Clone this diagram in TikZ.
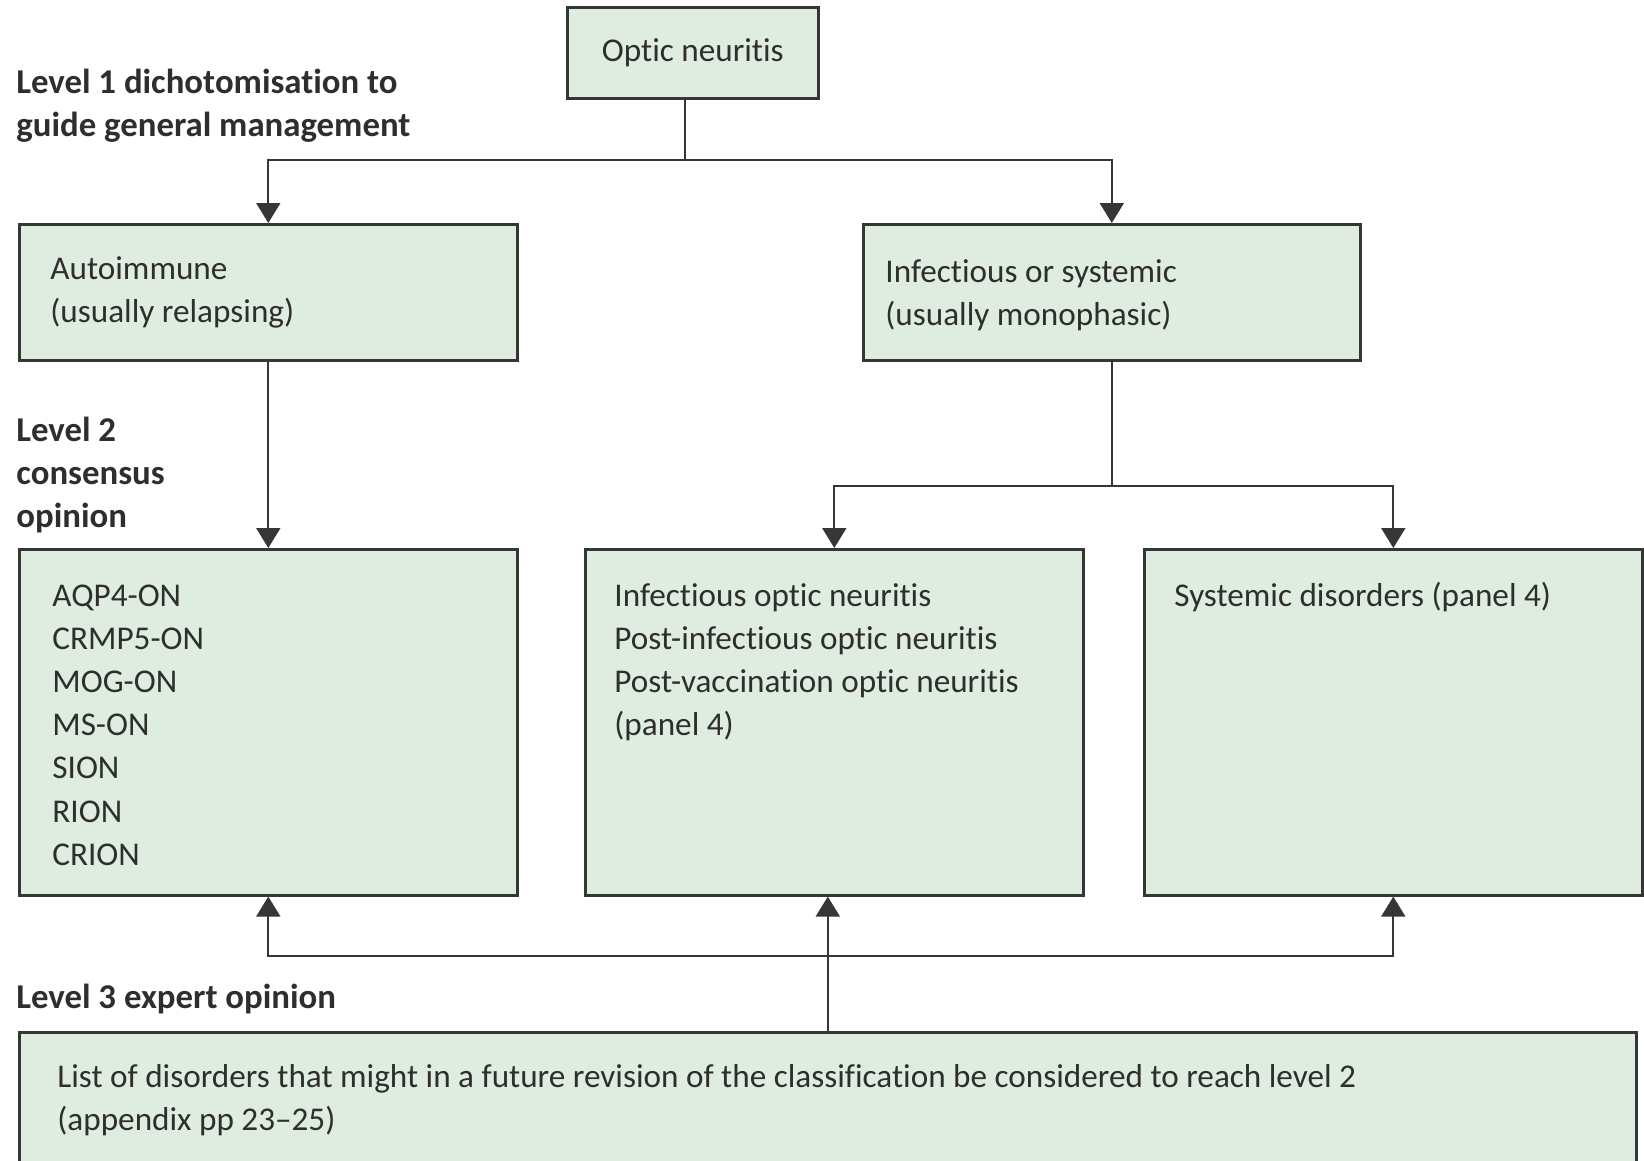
\documentclass[tikz,border=0pt]{standalone}
\usepackage{fontspec}
\setmainfont{Carlito}[Ligatures={NoCommon,NoRequired,NoContextual}]
\usepackage{tikz}
\usetikzlibrary{arrows.meta}
\usetikzlibrary{positioning}
\definecolor{boxfill}{HTML}{DFECE0}
\definecolor{boxline}{HTML}{363636}
\definecolor{inktext}{HTML}{2E2E2E}
\tikzstyle{box}=[draw=boxline,fill=boxfill,line width=1.3pt,rectangle,anchor=north west,inner sep=0pt]
\tikzstyle{txt}=[anchor=base west,align=left,inner sep=0pt,text=inktext,font=\fontsize{16.6}{21.6}\selectfont]
\tikzstyle{tier}=[txt,font=\fontsize{17.4}{21.5}\selectfont\bfseries]
\tikzstyle{link}=[draw=boxline,line width=1pt]
\tikzstyle{arrow}=[link,-{Triangle[length=10pt,width=12pt]}]

\begin{document}
\begin{tikzpicture}[x=0.5pt,y=-0.5pt]
\useasboundingbox (0,0) rectangle (1644,1161);
\clip (0,0) rectangle (1644,1161);
% boxes
\node [box,minimum width=125.5pt,minimum height=45.5pt,text=inktext,font=\fontsize{16.6}{21.6}\selectfont] (opt) at (566,6) {Optic neuritis};
\node [box,minimum width=249pt,minimum height=68pt] (auto) at (18,223) {};
\node [box,minimum width=248.5pt,minimum height=68pt] (inf) at (862,223) {};
\node [box,minimum width=249pt,minimum height=173pt] (aqp) at (18,548) {};
\node [box,minimum width=249pt,minimum height=173pt] (mid) at (584,548) {};
\node [box,minimum width=249pt,minimum height=173pt] (sys) at (1143,548) {};
\node [box,minimum width=808.5pt,minimum height=100pt] (lst) at (18,1031) {};

% box texts (base = last line)
\node [txt] (autotxt) at (auto.north west) [xshift=16pt,yshift=-49.6pt] {Autoimmune\\(usually relapsing)};
\node [txt] (inftxt) at (inf.north west) [xshift=11.5pt,yshift=-51.1pt] {Infectious or systemic\\(usually monophasic)};
\node [txt] (aqptxt) at (aqp.north west) [xshift=17pt,yshift=-158.6pt] {AQP4-ON\\CRMP5-ON\\MOG-ON\\MS-ON\\SION\\RION\\CRION};
\node [txt] (midtxt) at (mid.north west) [xshift=15pt,yshift=-93.8pt] {Infectious optic neuritis\\Post-infectious optic neuritis\\Post-vaccination optic neuritis\\(panel 4)};
\node [txt] (systxt) at (sys.north west) [xshift=15.5pt,yshift=-29pt] {Systemic disorders (panel 4)};
\node [txt] (lsttxt) at (lst.north west) [xshift=19.5pt,yshift=-49.6pt] {List of disorders that might in a future revision of the classification be considered to reach level 2\\(appendix pp 23--25)};

% level labels
\node [tier] (lvl1) at (16,137) {Level 1 dichotomisation to\\guide general management};
\node [tier] (lvl2) at (16,527) {Level 2\\consensus\\opinion};
\node [tier] (lvl3) at (16,1008) {Level 3 expert opinion};

% connectors
\coordinate (s1) at (685,160);
\coordinate (s2) at (1112,486);
\coordinate (s3) at (826.5,956);
\draw [link] (s1 |- opt.south) -- (s1);
\draw [arrow] (s1) -| (auto);
\draw [arrow] (s1) -| (inf);
\draw [arrow] (auto) -- (aqp);
\draw [link] (s2 |- inf.south) -- (s2);
\draw [arrow] (s2) -| (mid);
\draw [arrow] (s2) -| (sys);
\draw [arrow] (lst.north) -- (lst.north |- mid.south);
\draw [arrow] (s3) -| (aqp);
\draw [arrow] (s3) -| (sys);
\end{tikzpicture}
\end{document}
